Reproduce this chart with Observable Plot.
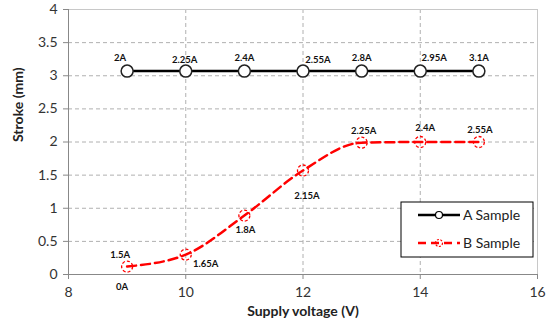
<!DOCTYPE html>
<html><head><meta charset="utf-8">
<script src="https://cdn.jsdelivr.net/npm/d3@7"></script>
<script src="https://cdn.jsdelivr.net/npm/@observablehq/plot@0.6"></script>
<style>
body{margin:0;background:#fff}
#chart{position:relative;width:555px;height:328px}
</style>
</head><body><div id="chart"></div>
<script>
// ---- data ----
const voltage = [9, 10, 11, 12, 13, 14, 15];
const strokeA = [3.07, 3.07, 3.07, 3.07, 3.07, 3.07, 3.07];
const strokeB = [0.12, 0.30, 0.89, 1.57, 1.99, 2.0, 2.0];
const currentA = ["2A", "2.25A", "2.4A", "2.55A", "2.8A", "2.95A", "3.1A"];
const currentB = ["1.5A", "1.65A", "1.8A", "2.15A", "2.25A", "2.4A", "2.55A"];
const extraLabelB = {index: 0, text: "0A"};
const xTicks = [8, 10, 12, 14, 16];
const yTicks = [0, 0.5, 1, 1.5, 2, 2.5, 3, 3.5, 4];
const seriesNames = ["A Sample", "B Sample"];

// label placement (pixel offsets from the point)
const offA = [[-7,-13],[-1,-11],[0,-13],[15,-11],[0,-13],[14,-13],[0,-13]];
const offB = [[-7,-12],[20,9],[1,14],[4,25],[2,-12],[5,-14],[1,-12]];
const offExtra = [-5, 20];

const A = voltage.map((v,i)=>({x:v, y:strokeA[i], label:currentA[i]}));
const B = voltage.map((v,i)=>({x:v, y:strokeB[i], label:currentB[i]}));

const font = "Lato, 'Open Sans', sans-serif";
const labelStyle = {fontSize: 9.5, fontWeight: "bold", fill: "#111", textAnchor: "middle"};

const labelMarks = [
  ...A.map((d,i)=>Plot.text([d], {x:"x", y:"y", text:"label", dx:offA[i][0], dy:offA[i][1], ...labelStyle})),
  ...B.map((d,i)=>Plot.text([d], {x:"x", y:"y", text:"label", dx:offB[i][0], dy:offB[i][1], ...labelStyle})),
  Plot.text([{...B[extraLabelB.index], label: extraLabelB.text}], {x:"x", y:"y", text:"label", dx:offExtra[0], dy:offExtra[1], ...labelStyle})
];

const fmt = d3.format("~g");

const chart = Plot.plot({
  width: 555, height: 328,
  marginLeft: 68, marginRight: 18, marginTop: 9, marginBottom: 54,
  style: {fontFamily: font, fontSize: "14px", color: "#333", background: "#fff"},
  x: {domain: [8, 16], ticks: xTicks, label: null},
  y: {domain: [0, 4], ticks: yTicks, label: null},
  marks: [
    Plot.ruleX(xTicks.slice(1), {stroke: "#b0b0b0", strokeDasharray: "4,3", strokeWidth: 1}),
    Plot.ruleY(yTicks.slice(1), {stroke: "#b0b0b0", strokeDasharray: "4,3", strokeWidth: 1}),
    Plot.frame({stroke: "#c8c8c8"}),
    Plot.axisX({ticks: xTicks, tickFormat: fmt, tickSize: 5, tickPadding: 8, stroke: "#888", fill: "#333", fontSize: 14, label: null}),
    Plot.axisY({ticks: yTicks, tickFormat: fmt, tickSize: 5, tickPadding: 6, stroke: "#888", fill: "#333", fontSize: 14, label: null}),
    Plot.ruleX([8], {stroke: "#888"}),
    Plot.ruleY([0], {stroke: "#888"}),
    Plot.line(B, {x:"x", y:"y", stroke:"#ff0000", strokeWidth: 2.5, strokeDasharray: "9,5", curve: "monotone-x"}),
    Plot.dot(B, {x:"x", y:"y", r: 5.5, stroke:"#ff0000", strokeWidth: 1.3, strokeDasharray: "3,2", fill: "none"}),
    Plot.line(A, {x:"x", y:"y", stroke:"#000", strokeWidth: 2.5}),
    Plot.dot(A, {x:"x", y:"y", r: 6, stroke:"#222", strokeWidth: 1.5, fill: "#fff"}),
    ...labelMarks,
    Plot.text(["Supply voltage (V)"], {frameAnchor: "bottom", dy: 41, fontWeight: "bold", fontSize: 14, fill: "#222"}),
    Plot.text(["Stroke (mm)"], {frameAnchor: "left", dx: -50, rotate: -90, fontWeight: "bold", fontSize: 14, fill: "#222"})
  ]
});
document.getElementById("chart").appendChild(chart);

// legend box inside the plot area
const svg = d3.select(chart);
const lg = svg.append("g").attr("font-family", font).attr("font-size", 14).attr("text-anchor", "start");
lg.append("rect").attr("x", 401).attr("y", 202).attr("width", 132).attr("height", 55)
  .attr("fill", "#fff").attr("stroke", "#000").attr("stroke-width", 1);
const rows = [
  {y: 215, stroke: "#000", dash: null, cfill: "#fff", cdash: null},
  {y: 243, stroke: "#ff0000", dash: "8,5", cfill: "none", cdash: "2,1.5"}
];
rows.forEach((r, i) => {
  lg.append("line").attr("x1", 418).attr("x2", 460).attr("y1", r.y).attr("y2", r.y)
    .attr("stroke", r.stroke).attr("stroke-width", 2.5).attr("stroke-dasharray", r.dash);
  lg.append("circle").attr("cx", 439).attr("cy", r.y).attr("r", 3.5)
    .attr("stroke", r.stroke).attr("stroke-width", 1.2).attr("fill", r.cfill).attr("stroke-dasharray", r.cdash);
  lg.append("text").attr("x", 463).attr("y", r.y).attr("dy", "0.35em").attr("text-anchor", "start")
    .attr("fill", "#222").text(seriesNames[i]);
});
</script>
</body></html>
